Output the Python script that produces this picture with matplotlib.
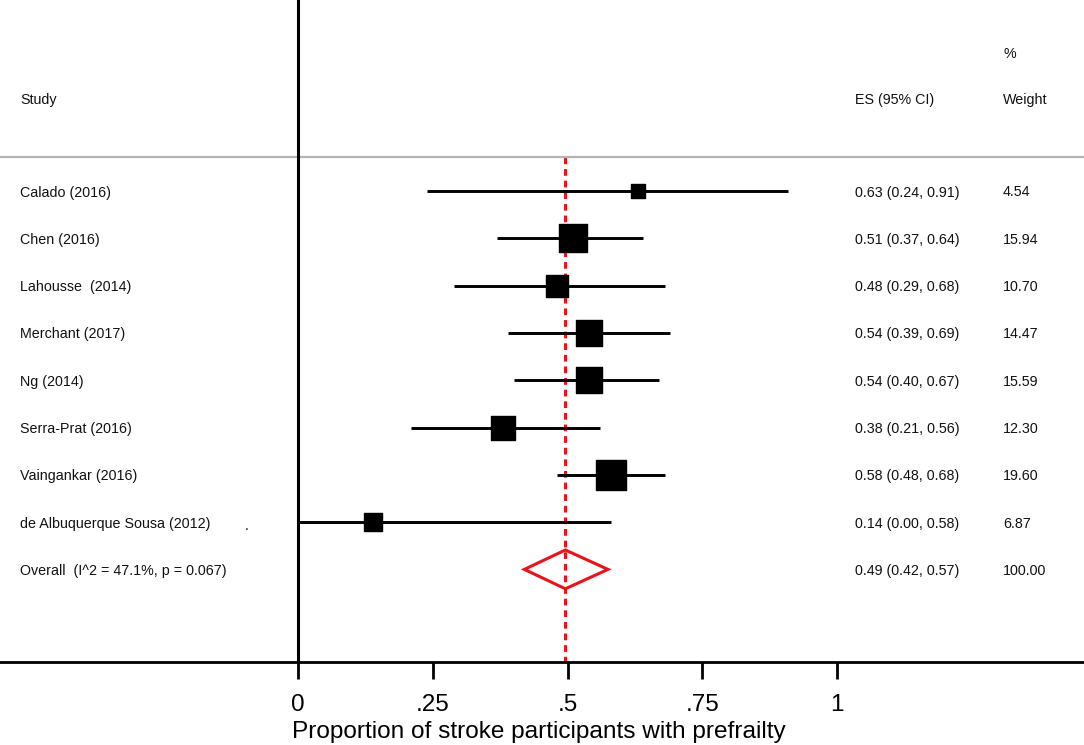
import numpy as np
import matplotlib
matplotlib.use('Agg')
import matplotlib.pyplot as plt
from matplotlib.patches import Polygon

plt.rcParams['font.family'] = ['Liberation Sans', 'DejaVu Sans']

# study data
studies = ['Calado (2016)', 'Chen (2016)', 'Lahousse  (2014)', 'Merchant (2017)',
           'Ng (2014)', 'Serra-Prat (2016)', 'Vaingankar (2016)',
           'de Albuquerque Sousa (2012)']
es = [0.63, 0.51, 0.48, 0.54, 0.54, 0.38, 0.58, 0.14]
lo = [0.24, 0.37, 0.29, 0.39, 0.40, 0.21, 0.48, 0.00]
hi = [0.91, 0.64, 0.68, 0.69, 0.67, 0.56, 0.68, 0.58]
weight = [4.54, 15.94, 10.70, 14.47, 15.59, 12.30, 19.60, 6.87]

overall_label = 'Overall  (I^2 = 47.1%, p = 0.067)'
overall_es = 0.496
overall_lo = 0.42
overall_hi = 0.575

es_text = ['0.63 (0.24, 0.91)', '0.51 (0.37, 0.64)', '0.48 (0.29, 0.68)',
           '0.54 (0.39, 0.69)', '0.54 (0.40, 0.67)', '0.38 (0.21, 0.56)',
           '0.58 (0.48, 0.68)', '0.14 (0.00, 0.58)', '0.49 (0.42, 0.57)']
w_text = ['4.54', '15.94', '10.70', '14.47', '15.59', '12.30', '19.60', '6.87', '100.00']

ticks = [0, 0.25, 0.5, 0.75, 1]
tick_labels = ['0', '.25', '.5', '.75', '1']

fig = plt.figure(figsize=(10.84, 7.45), dpi=100)
ax = fig.add_axes([0, 83 / 745, 1, 662 / 745])

W = 1084.0
x0 = 298.0
unit = 539.0
row_h = 47.3
ax.set_xlim(-x0 / unit, (W - x0) / unit)
ax.set_ylim((662 - 191) / row_h, -191 / row_h)

rows = np.arange(len(studies))
orow = len(studies)

# columns
x_lab = (20 - x0) / unit
x_es = (855 - x0) / unit
x_w = (1003 - x0) / unit
fs = 10.3
tkw = dict(fontsize=fs, va='center_baseline', color='#111111')

ax.text(x_lab, -1.96, 'Study', **tkw)
ax.text(x_es, -1.96, 'ES (95% CI)', **tkw)
ax.text(x_w, -1.96, 'Weight', **tkw)
ax.text(x_w, -2.93, '%', **tkw)

ax.axhline(-0.72, color='#b4b4b4', lw=1.6)

# red dashed line at overall estimate
ax.plot([overall_es, overall_es], [-0.72, 10], color='#e8141c', lw=2.2,
        ls=(0, (2.2, 1.6)), zorder=1)

for i in rows:
    ax.plot([lo[i], hi[i]], [i, i], color='black', lw=2.1, solid_capstyle='butt', zorder=2)
    ax.scatter(es[i], i, marker='s', s=24 * weight[i], color='black', zorder=3)
    ax.text(x_lab, i, studies[i], **tkw)
    ax.text(x_es, i, es_text[i], **tkw)
    ax.text(x_w, i, w_text[i], **tkw)

ax.text((245 - x0) / unit, orow - 1 + 0.05, '.', **tkw)

h = 0.41
dia = Polygon([[overall_lo, orow], [overall_es, orow - h], [overall_hi, orow], [overall_es, orow + h]],
              closed=True, fill=False, edgecolor='#e8141c', lw=2.2, zorder=3)
ax.add_patch(dia)
ax.text(x_lab, orow, overall_label, **tkw)
ax.text(x_es, orow, es_text[orow], **tkw)
ax.text(x_w, orow, w_text[orow], **tkw)

# axes styling
for s in ['top', 'right']:
    ax.spines[s].set_visible(False)
ax.spines['left'].set_position(('data', 0))
ax.spines['left'].set_linewidth(2.2)
ax.spines['bottom'].set_linewidth(2.0)
ax.set_yticks([])
ax.set_xticks(ticks)
ax.set_xticklabels(tick_labels, fontsize=17.5)
ax.tick_params(axis='x', direction='out', length=12, width=2, pad=11)

fig.text(292 / W, 1 - 738 / 745, 'Proportion of stroke participants with prefrailty',
         fontsize=17.6, ha='left', va='baseline')

fig.savefig('out.png', dpi=100)
